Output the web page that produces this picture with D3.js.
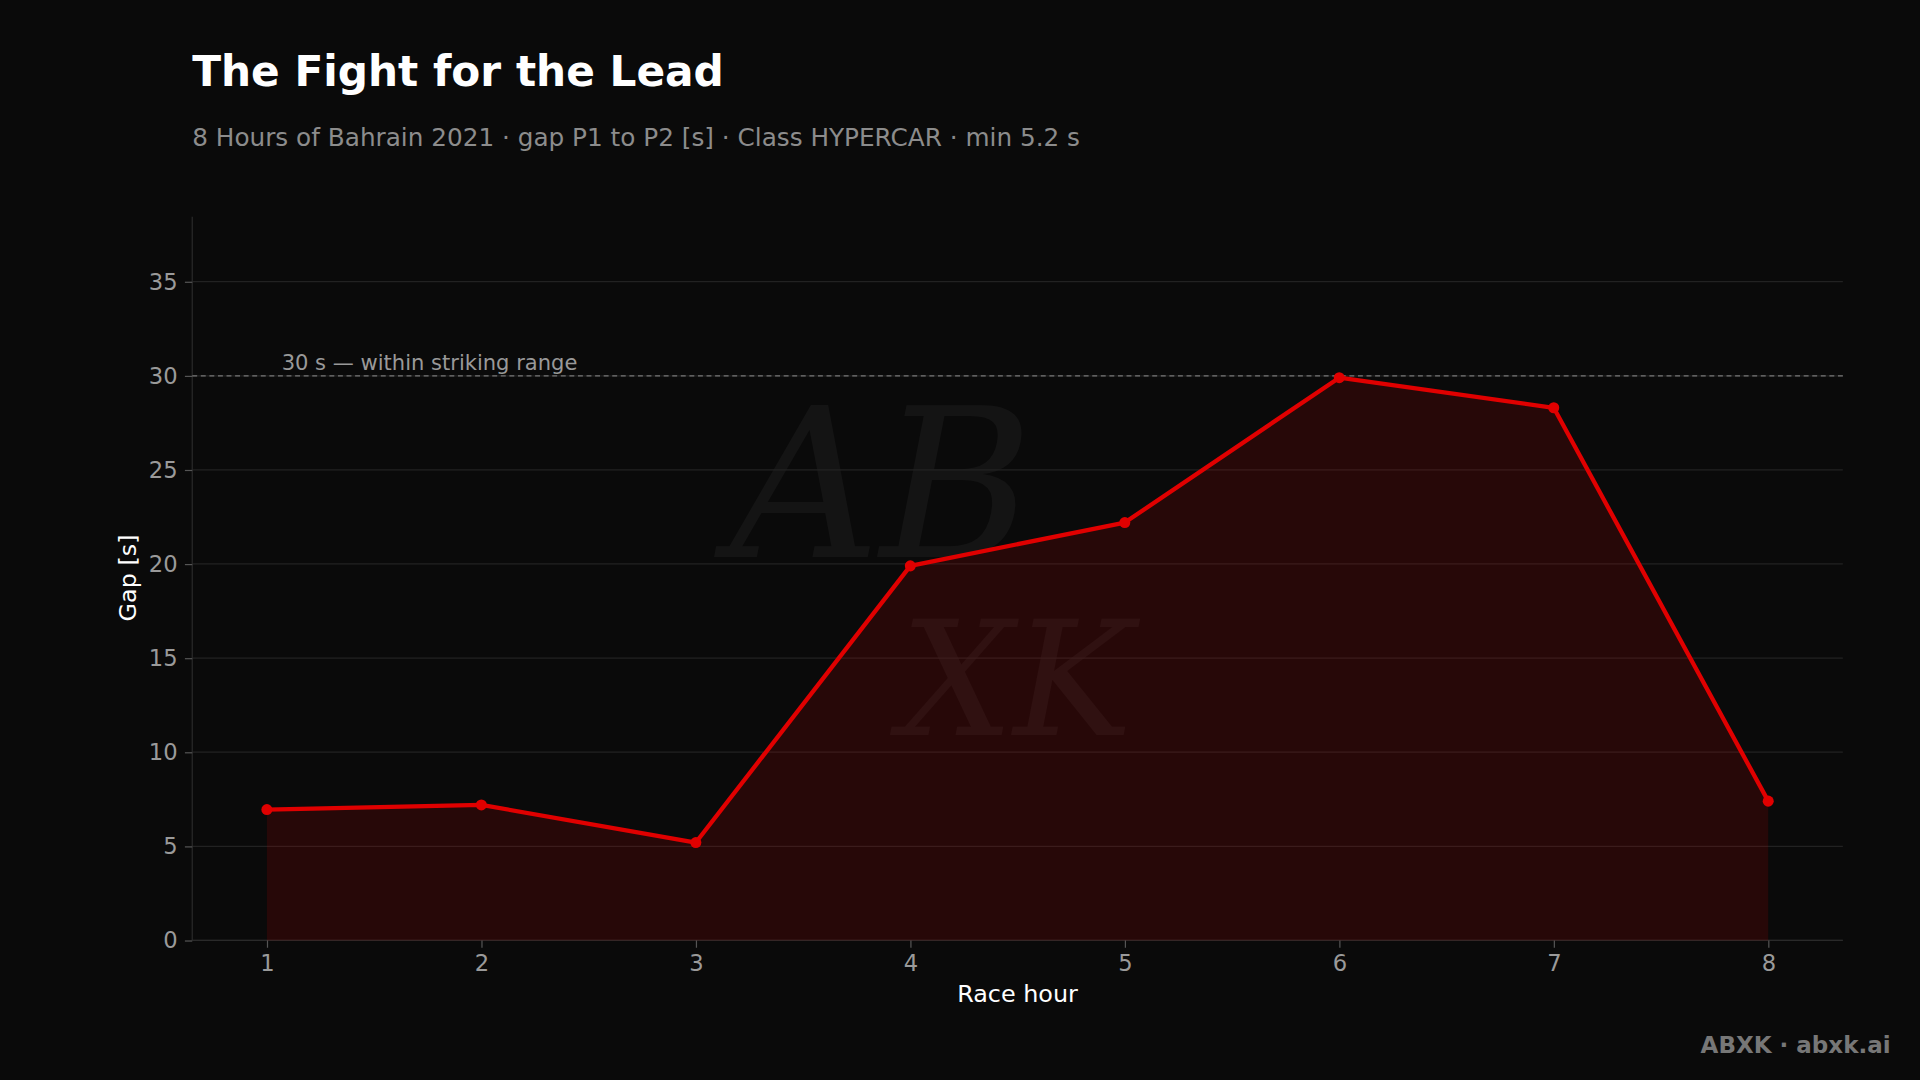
<!DOCTYPE html>
<html><head><meta charset="utf-8">
<script src="https://cdn.jsdelivr.net/npm/d3@7"></script>
<style>html,body{margin:0;background:#0a0a0a;overflow:hidden}</style>
</head><body>
<svg id="c" width="1920" height="1080" viewBox="0 0 1568 882"></svg>
<script>
const hours = [1,2,3,4,5,6,7,8];
const gaps = [6.95,7.2,5.2,19.9,22.2,29.9,28.3,7.4];
const yTicks = [0,5,10,15,20,25,30,35];
const refValue = 30;
const refLabel = "30 s — within striking range";

const svg = d3.select("#c");
const font = "DejaVu Sans, sans-serif";
svg.append("rect").attr("width",1568).attr("height",882).attr("fill","#0a0a0a");
const L=157,R=1505,T=177,B=768;
const x = d3.scaleLinear().domain([0.652,8.348]).range([L,R]);
const y = d3.scaleLinear().domain([0,38.45]).range([B,T]);

// watermark
svg.append("text").attr("x",720).attr("y",455).attr("text-anchor","middle")
 .attr("font-family","DejaVu Serif, serif").attr("font-style","italic").attr("font-size",170)
 .attr("fill","#ffffff").attr("opacity",0.04).text("AB");
svg.append("text").attr("x",830).attr("y",600).attr("text-anchor","middle")
 .attr("font-family","DejaVu Serif, serif").attr("font-style","italic").attr("font-size",130)
 .attr("fill","#ffffff").attr("opacity",0.04).text("XK");

svg.append("g").selectAll("line").data(yTicks).join("line")
 .attr("x1",L).attr("x2",R).attr("y1",d=>y(d)).attr("y2",d=>y(d))
 .attr("stroke","#222").attr("stroke-width",1);

svg.append("line").attr("x1",L).attr("x2",L).attr("y1",T).attr("y2",B).attr("stroke","#2a2a2a");
svg.append("line").attr("x1",L).attr("x2",R).attr("y1",B).attr("y2",B).attr("stroke","#2a2a2a");

const ya = svg.append("g").attr("transform",`translate(${L},0)`)
 .call(d3.axisLeft(y).tickValues(yTicks).tickSize(6).tickPadding(6));
const xa = svg.append("g").attr("transform",`translate(0,${B})`)
 .call(d3.axisBottom(x).tickValues(hours).tickSize(6).tickPadding(6));
[ya,xa].forEach(a=>{a.select(".domain").remove();
 a.selectAll("line").attr("stroke","#555");
 a.selectAll("text").attr("fill","#9a9a9a").attr("font-size",18.5).attr("font-family",font);});

svg.append("line").attr("x1",L).attr("x2",R).attr("y1",y(refValue)).attr("y2",y(refValue))
 .attr("stroke","#777").attr("stroke-dasharray","4,3").attr("stroke-width",1);
svg.append("text").attr("x",230).attr("y",y(refValue)-5).attr("fill","#999")
 .attr("font-size",17.2).attr("font-family",font).text(refLabel);

const pts = hours.map((h,i)=>[h,gaps[i]]);
svg.append("path").datum(pts).attr("fill","#d00000").attr("opacity",0.15)
 .attr("d",d3.area().x(d=>x(d[0])).y0(y(0)).y1(d=>y(d[1])));
svg.append("path").datum(pts).attr("fill","none").attr("stroke","#e00000").attr("stroke-width",3.5)
 .attr("stroke-linejoin","round").attr("d",d3.line().x(d=>x(d[0])).y(d=>y(d[1])));
svg.append("g").selectAll("circle").data(pts).join("circle")
 .attr("cx",d=>x(d[0])).attr("cy",d=>y(d[1])).attr("r",4.5).attr("fill","#e00000");

svg.append("text").attr("x",157).attr("y",70).attr("fill","#fff").attr("font-weight","bold")
 .attr("font-size",34.5).attr("font-family",font).text("The Fight for the Lead");
svg.append("text").attr("x",157).attr("y",119).attr("fill","#8c8c8c")
 .attr("font-size",20.2).attr("font-family",font)
 .text("8 Hours of Bahrain 2021 · gap P1 to P2 [s] · Class HYPERCAR · min 5.2 s");
svg.append("text").attr("x",831).attr("y",818).attr("text-anchor","middle").attr("fill","#fff")
 .attr("font-size",19.5).attr("font-family",font).text("Race hour");
svg.append("text").attr("transform","translate(111,472) rotate(-90)").attr("text-anchor","middle")
 .attr("fill","#fff").attr("font-size",19.5).attr("font-family",font).text("Gap [s]");
svg.append("text").attr("x",1544).attr("y",860).attr("text-anchor","end").attr("fill","#777")
 .attr("font-weight","bold").attr("font-size",18.8).attr("font-family",font).text("ABXK · abxk.ai");
</script></body></html>
